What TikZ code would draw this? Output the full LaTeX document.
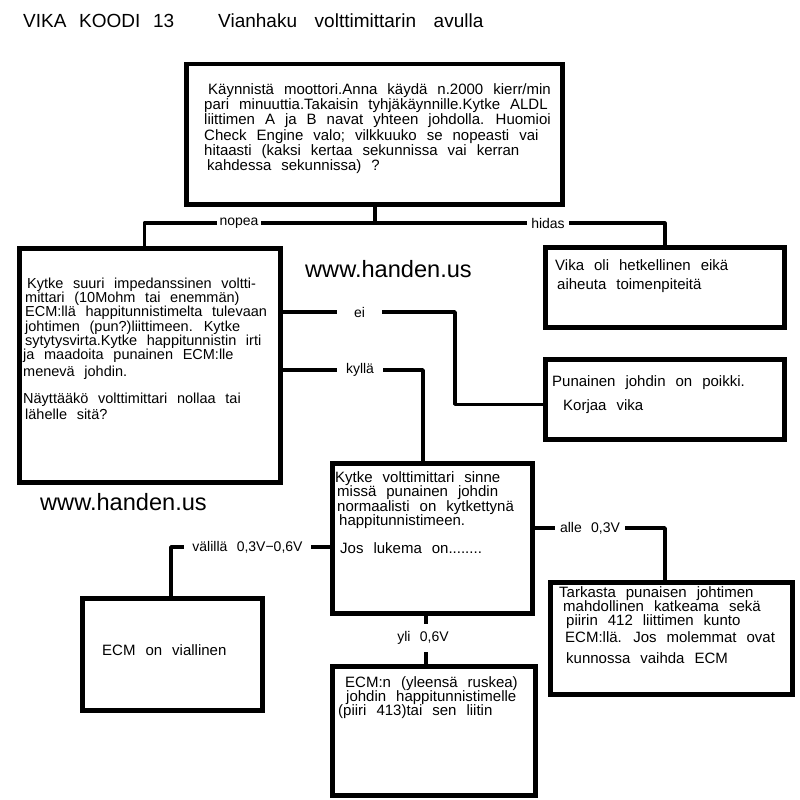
\documentclass[tikz,border=0pt]{standalone}
\usepackage{fontspec}
\setmainfont{Liberation Sans}[WordSpace={2.4,0,0}]
\newcommand{\myfs}[2]{\fontsize{#1}{#2}\selectfont\lineskiplimit=-100pt\relax}
\begin{document}
\begin{tikzpicture}[x=1pt,y=-1pt,
  box/.style={draw, line width=4.5pt, inner sep=0pt, anchor=north west},
  wire/.style={line width=3.5pt, line join=round},
  txt/.style={anchor=north west, inner sep=0pt, align=left, font=\myfs{15}{14.3}},
  lbl/.style={fill=white, inner ysep=1pt, font=\myfs{14}{16}},
  url/.style={anchor=west, inner sep=0pt, font=\myfs{23.6}{28}},
  ttl/.style={anchor=north west, inner sep=0pt, font=\myfs{19}{22}}]
\path[fill=white, use as bounding box] (0,0) rectangle (800,800);

% title
\node[ttl] (t1) at (23,14) {VIKA KOODI 13};
\node[ttl] (t2) at (218,14) {Vianhaku \hspace{5pt}volttimittarin \hspace{5pt}avulla};

% boxes
\node[box, minimum width=376pt, minimum height=140pt] (b0) at (184,62) {};
\node[box, minimum width=261pt, minimum height=234pt] (b1) at (17,246) {};
\node[box, minimum width=239pt, minimum height=80pt] (b2) at (543,245) {};
\node[box, minimum width=239pt, minimum height=80pt] (b3) at (543,357) {};
\node[box, minimum width=200pt, minimum height=150pt] (b4) at (330,461) {};
\node[box, minimum width=242pt, minimum height=112pt] (b5) at (548,580) {};
\node[box, minimum width=180pt, minimum height=112pt] (b6) at (80,596) {};
\node[box, minimum width=203pt, minimum height=129pt] (b7) at (330,664) {};

% connectors
\coordinate (j) at (375,223);
\coordinate (eiT) at (455,312);
\coordinate (kyT) at (423,370);
\coordinate (alT) at (665,528);
\coordinate (vaT) at (171,547);
\coordinate (yT) at (426,611);
\draw[wire] (j |- b0.south) -- (j);
\draw[wire] ([xshift=-5.5pt]b1.north) |- (j) -| (b2.north);
\draw[wire] (b1.east |- eiT) -- (eiT) |- ([yshift=-5pt]b3.west);
\draw[wire] (b1.east |- kyT) -- (kyT) -- (kyT |- b4.north);
\draw[wire] (b4.east |- alT) -- (alT) -- (alT |- b5.north);
\draw[wire] (b4.west |- vaT) -- (vaT) -- (vaT |- b6.north);
\draw[wire] (yT |- b4.south) -- (yT |- b7.north);

% connector labels
\node[lbl, inner xsep=3pt] (lnopea) at (239,223) {nopea};
\node[lbl, inner xsep=4pt] (lhidas) at (548,223) {hidas};
\node[lbl, inner xsep=17pt] (lei) at (359.5,312) {ei};
\node[lbl, inner xsep=9pt] (lky) at (360,370) {kyllä};
\node[lbl, inner xsep=5pt] (lalle) at (590,528) {alle 0,3V};
\node[lbl, inner xsep=8pt] (lval) at (247.5,547) {välillä 0,3V−0,6V};
\node[lbl, inner ysep=7pt, inner xsep=2pt] (lyli) at (423,638) {yli 0,6V};

% watermark texts
\node[url] (u1) at (305,269) {www.handen.us};
\node[url] (u2) at (40,502) {www.handen.us};

% box texts
\node[txt, font=\myfs{15}{15.2}] (x0) at (204,83.5) {\hspace*{4pt}Käynnistä moottori.Anna käydä n.2000 kierr/min\\
pari minuuttia.Takaisin tyhjäkäynnille.Kytke ALDL\\
liittimen A ja B navat yhteen johdolla. Huomioi\\
Check Engine valo; vilkkuuko se nopeasti vai\\
hitaasti (kaksi kertaa sekunnissa vai kerran\\
\hspace*{3pt}kahdessa sekunnissa) ?};

\node[txt, font=\myfs{14.5}{14.3}] (x1) at (23,277.5) {\hspace*{4pt}Kytke suuri impedanssinen voltti-\\
\hspace*{2pt}mittari (10Mohm tai enemmän)\\
\hspace*{2pt}ECM:llä happitunnistimelta tulevaan\\
\hspace*{2pt}johtimen (pun?)liittimeen. Kytke\\
\hspace*{2pt}sytytysvirta.Kytke happitunnistin irti\\
ja maadoita punainen ECM:lle\\[2.7pt]
menevä johdin.\\[12.7pt]
Näyttääkö volttimittari nollaa tai\\[1.7pt]
\hspace*{2pt}lähelle sitä?};

\node[txt, font=\myfs{15}{19}] (x2) at (555,259.5) {Vika oli hetkellinen eikä\\
\hspace*{2pt}aiheuta toimenpiteitä};

\node[txt, font=\myfs{15}{24}] (x3) at (552,375.5) {Punainen johdin on poikki.\\
\hspace*{11pt}Korjaa vika};

\node[txt] (x4) at (335,471.5) {Kytke volttimittari sinne\\
\hspace*{2pt}missä punainen johdin\\
\hspace*{2pt}normaalisti on kytkettynä\\
\hspace*{4pt}happitunnistimeen.\\[13.7pt]
\hspace*{5pt}Jos lukema on........};

\node[txt, font=\myfs{15}{13.6}] (x5) at (559,586.5) {Tarkasta punaisen johtimen\\
\hspace*{4pt}mahdollinen katkeama sekä\\[1pt]
\hspace*{7pt}piirin 412 liittimen kunto\\[3pt]
\hspace*{6pt}ECM:llä. Jos molemmat ovat\\[7.5pt]
\hspace*{7pt}kunnossa vaihda ECM};

\node[txt] (x6) at (102,644.5) {ECM on viallinen};

\node[txt, font=\myfs{15}{14.2}] (x7) at (338,676.5) {\hspace*{7pt}ECM:n (yleensä ruskea)\\
\hspace*{8pt}johdin happitunnistimelle\\
(piiri 413)tai sen liitin};
\end{tikzpicture}
\end{document}
